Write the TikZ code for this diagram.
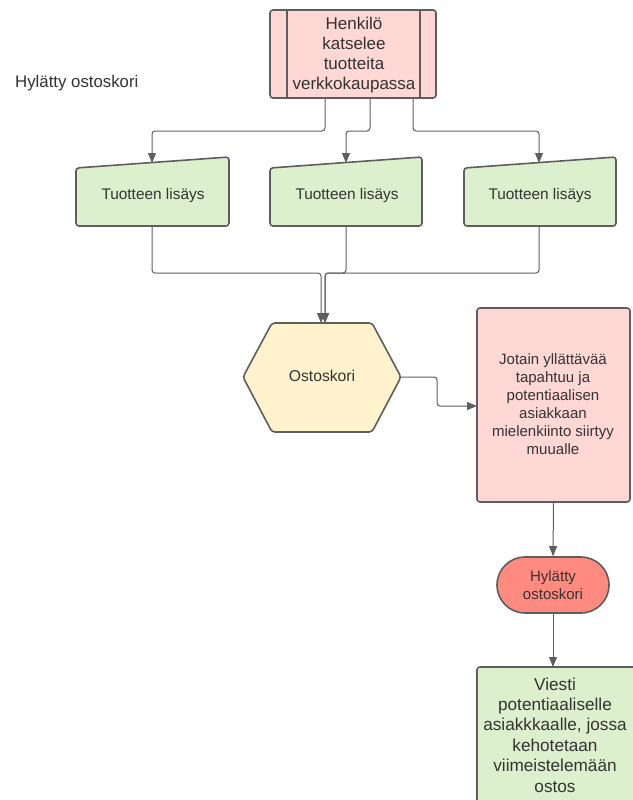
\documentclass[tikz,border=0pt]{standalone}
\usepackage{fontspec}
\setmainfont{Liberation Sans}
\usetikzlibrary{arrows.meta}
\definecolor{ln}{HTML}{5E5E5E}
\definecolor{tx}{HTML}{333333}
\definecolor{pinkf}{HTML}{FFD7D4}
\definecolor{greenf}{HTML}{DDF0CD}
\definecolor{yellf}{HTML}{FFF2CC}
\definecolor{salm}{HTML}{FF8A80}
\begin{document}
\begin{tikzpicture}[x=1pt,y=-1pt,
  shp/.style={draw=ln, line width=1.6pt, rounded corners=3pt},
  con/.style={draw=ln, line width=1pt, rounded corners=3pt, -{Triangle[length=10pt,width=8pt]}},
  lbl/.style={text=tx, align=center, font=\fontsize{15}{18}\selectfont, inner sep=0pt},
  boxlbl/.style={text=tx, align=center, font=\fontsize{15.4}{18}\selectfont, inner sep=0pt}]
\useasboundingbox (0,0) rectangle (632,800);

% title
\node[text=tx, anchor=west, inner sep=0pt, font=\fontsize{16.8}{19}\selectfont] (title) at (15,83) {Hylätty ostoskori};

% top predefined process
\node[shp, fill=pinkf, minimum width=166pt, minimum height=88pt, inner sep=0pt] (topbox) at (353,54) {};
\draw[ln, line width=1.6pt] (287,10) -- (287,98) (420,10) -- (420,98);
\node[lbl, font=\fontsize{17}{20}\selectfont] (toptext) at (354,55) {Henkilö\\katselee\\tuotteita\\verkkokaupassa};

% manual input shapes
\foreach \n/\xl/\xr/\xc in {a/76/229/152, b/270/422/346, c/464/616/539}{
  \draw[shp, fill=greenf] (\xl,168) -- (\xr,157) -- (\xr,226) -- (\xl,226) -- cycle;
  \node[boxlbl] (in\n) at (\xc+1,196) {Tuotteen lisäys};
  \coordinate (in\n top) at (\xc,163);
  \coordinate (in\n bot) at (\xc,226);
}

% connectors from top box
\coordinate (ta) at (325,98);
\coordinate (tb) at (370,98);
\coordinate (tc) at (413,98);
\draw[con] (ta) |- (152,131) -- (inatop);
\draw[con] (tb) |- (346,131) -- (inbtop);
\draw[con] (tc) |- (539,131) -- (inctop);

% hexagon
\draw[shp, fill=yellf] (243,377) -- (272,323) -- (372,323) -- (401,377) -- (372,432) -- (272,432) -- cycle;
\node[boxlbl, font=\fontsize{15.7}{18}\selectfont] (hex) at (322,376) {Ostoskori};
\coordinate (hexl) at (321,323);
\coordinate (hexr) at (325,323);
\coordinate (hexe) at (401,377);

% merge connectors
\draw[con] (inabot) |- (321,273) -- (hexl);
\draw[con] (inbbot) |- (325,273) -- (hexr);
\draw[con] (incbot) |- (325,273) -- (hexr);

% right pink box
\node[shp, fill=pinkf, minimum width=153pt, minimum height=194pt, inner sep=0pt] (event) at (553.5,405) {};
\node[lbl] (eventtext) at (553,404) {Jotain yllättävää\\tapahtuu ja\\potentiaalisen\\asiakkaan\\mielenkiinto siirtyy\\muualle};
\coordinate (evin) at (477,406);
\draw[con] (hexe) -| (437,406) -- (evin);

% terminal
\node[draw=ln, line width=1.6pt, fill=salm, rounded corners=28pt, minimum width=112pt, minimum height=56pt, inner sep=0pt] (term) at (553,585) {};
\node[lbl] (termtext) at (553,585) {Hylätty\\ostoskori};
\draw[con] (event.south) -- (term.north);

% bottom green box
\draw[shp, fill=greenf] (477,667) rectangle (642,812);
\coordinate (msgtop) at (553,667);
\node[lbl, font=\fontsize{17.2}{20.4}\selectfont] (msg) at (555,735) {Viesti\\potentiaaliselle\\asiakkkaalle, jossa\\kehotetaan\\viimeistelemään\\ostos};
\draw[con] (term.south) -- (msgtop);
\end{tikzpicture}
\end{document}
